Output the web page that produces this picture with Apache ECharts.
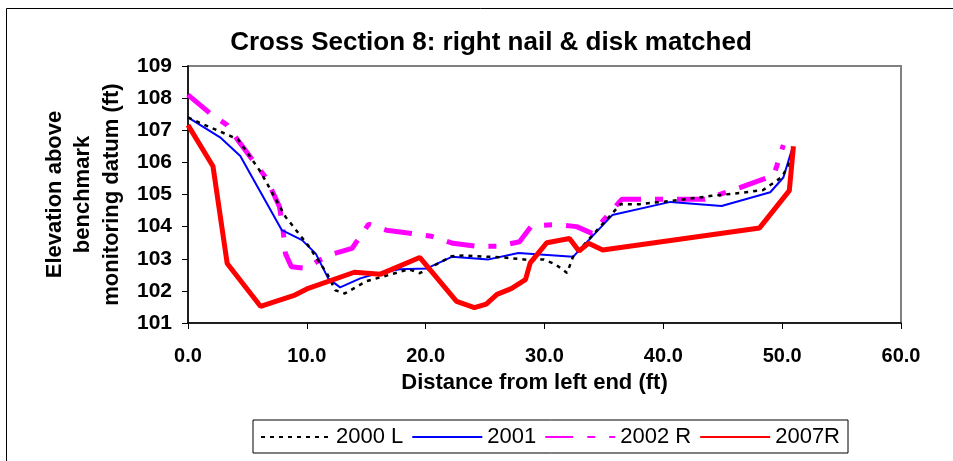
<!DOCTYPE html>
<html>
<head>
<meta charset="utf-8">
<title>Cross Section 8</title>
<script src="https://cdn.jsdelivr.net/npm/echarts@6/dist/echarts.min.js"></script>
<style>
  html, body { margin: 0; padding: 0; background: #fff; }
  #main { width: 953px; height: 461px; }
</style>
</head>
<body>
<div id="main"></div>
<script type="text/javascript">
// survey points: [distance from left end (ft), elevation (ft)]
var s2000L = [[0,107.4],[1.0,107.23],[4.2,106.72],[6.1,105.71],[8.2,104.31],[10.1,103.42],[11.7,102.54],[12.4,102.02],[13.2,101.92],[15.0,102.3],[18.6,102.67],[19.5,102.55],[22.2,103.08],[23.2,103.1],[26.5,103.04],[28.8,102.96],[29.9,102.98],[30.9,102.83],[31.9,102.56],[32.4,103.06],[36.4,104.7],[38.0,104.7],[41.4,104.83],[43.9,104.95],[46.5,105.05],[48.4,105.14],[50.0,105.55],[51.1,106.33]];
var s2001 = [[0,107.4],[2.7,106.78],[4.4,106.2],[7.9,103.89],[9.6,103.58],[10.75,103.16],[11.8,102.39],[12.8,102.11],[14.5,102.39],[15.9,102.54],[17.8,102.67],[20.1,102.7],[22.2,103.06],[25.3,102.98],[27.8,103.18],[32.4,103.06],[35.7,104.36],[40.6,104.77],[44.9,104.64],[49.0,105.07],[50.1,105.53],[50.8,106.38]];
var s2002R = [[0,108.1],[1.85,107.53],[3.3,107.16],[4.2,106.69],[6.6,105.5],[7.7,104.62],[8.0,103.89],[8.2,103.16],[8.7,102.75],[10.0,102.7],[10.8,102.9],[12.0,103.13],[13.8,103.32],[15.2,104.08],[16.7,103.89],[20.5,103.7],[22.3,103.48],[24.2,103.39],[26.1,103.39],[27.9,103.53],[28.9,104.02],[31.0,104.07],[32.7,104.0],[34.0,103.79],[36.5,104.85],[43.5,104.85],[46.5,105.22],[49.3,105.6],[50.1,106.54]];
var s2007R = [[0,107.16],[2.1,105.88],[3.3,102.85],[6.1,101.52],[9.0,101.87],[10.0,102.06],[14.0,102.58],[16.2,102.52],[19.5,103.04],[22.6,101.67],[24.1,101.48],[25.1,101.59],[26.0,101.89],[27.2,102.07],[28.4,102.35],[28.8,102.87],[30.2,103.5],[32.1,103.63],[32.9,103.24],[33.7,103.48],[34.9,103.27],[48.1,103.96],[50.6,105.12],[50.95,106.5]];
var seriesNames = ['2000 L', '2001', '2002 R', '2007R'];

var chart = echarts.init(document.getElementById('main'));
var font = 'Arial, "Liberation Sans", sans-serif';

chart.setOption({
  animation: false,
  backgroundColor: '#fff',
  textStyle: { fontFamily: font, color: '#000' },
  title: {
    text: 'Cross Section 8: right nail & disk matched',
    left: 486, top: 25, textAlign: 'center',
    textStyle: { fontSize: 26, fontWeight: 'bold', color: '#000', fontFamily: font }
  },
  // outer chart frame (runs off the right and bottom edges)
  graphic: [{
    type: 'rect', left: 4, top: 6, z: -1,
    shape: { width: 1000, height: 500 },
    style: { fill: 'none', stroke: '#000', lineWidth: 1 }
  }],
  grid: {
    left: 188, right: 52, top: 66, bottom: 138,
    show: true, borderColor: '#808080', borderWidth: 2, backgroundColor: '#fff'
  },
  legend: {
    data: seriesNames,
    left: 253, top: 420,
    padding: [6, 8, 5, 7],
    itemWidth: 70, itemHeight: 14, itemGap: 8,
    borderColor: '#000', borderWidth: 1,
    itemStyle: { opacity: 0 },
    textStyle: { fontSize: 22, color: '#000', fontFamily: font }
  },
  xAxis: {
    type: 'value', min: 0, max: 60, interval: 10,
    name: 'Distance from left end (ft)',
    nameLocation: 'middle', nameGap: 49,
    nameTextStyle: { fontSize: 22, fontWeight: 'bold', color: '#000', padding: [0, 20, 0, 0] },
    axisLine: { lineStyle: { color: '#000', width: 1.5 } },
    axisTick: { show: true, length: 6, lineStyle: { color: '#000' } },
    axisLabel: { fontSize: 20, fontWeight: 'bold', color: '#000', margin: 23,
      formatter: function (v) { return v.toFixed(1); } },
    splitLine: { show: false }
  },
  yAxis: {
    type: 'value', min: 101, max: 109, interval: 1,
    name: 'Elevation above\nbenchmark\nmonitoring datum (ft)',
    nameLocation: 'middle', nameGap: 62, nameRotate: 90,
    nameTextStyle: { fontSize: 22, fontWeight: 'bold', color: '#000', lineHeight: 28.5 },
    axisLine: { show: true, lineStyle: { color: '#000', width: 1.5 } },
    axisTick: { show: true, length: 6, lineStyle: { color: '#000' } },
    axisLabel: { fontSize: 21, fontWeight: 'bold', color: '#000', margin: 16 },
    splitLine: { show: false }
  },
  series: [
    { name: '2000 L', type: 'line', data: s2000L, symbol: 'none', z: 4,
      lineStyle: { color: '#000', width: 2.5, type: [4, 5] }, itemStyle: { color: '#000' } },
    { name: '2001', type: 'line', data: s2001, symbol: 'none', z: 3,
      lineStyle: { color: '#0000ff', width: 2 }, itemStyle: { color: '#0000ff' } },
    { name: '2002 R', type: 'line', data: s2002R, symbol: 'none', z: 2,
      lineStyle: { color: '#ff00ff', width: 5, type: [28, 14, 8, 14] }, itemStyle: { color: '#ff00ff' } },
    { name: '2007R', type: 'line', data: s2007R, symbol: 'none', z: 5,
      lineStyle: { color: '#ff0000', width: 5 }, itemStyle: { color: '#ff0000' } }
  ]
});
</script>
</body>
</html>
